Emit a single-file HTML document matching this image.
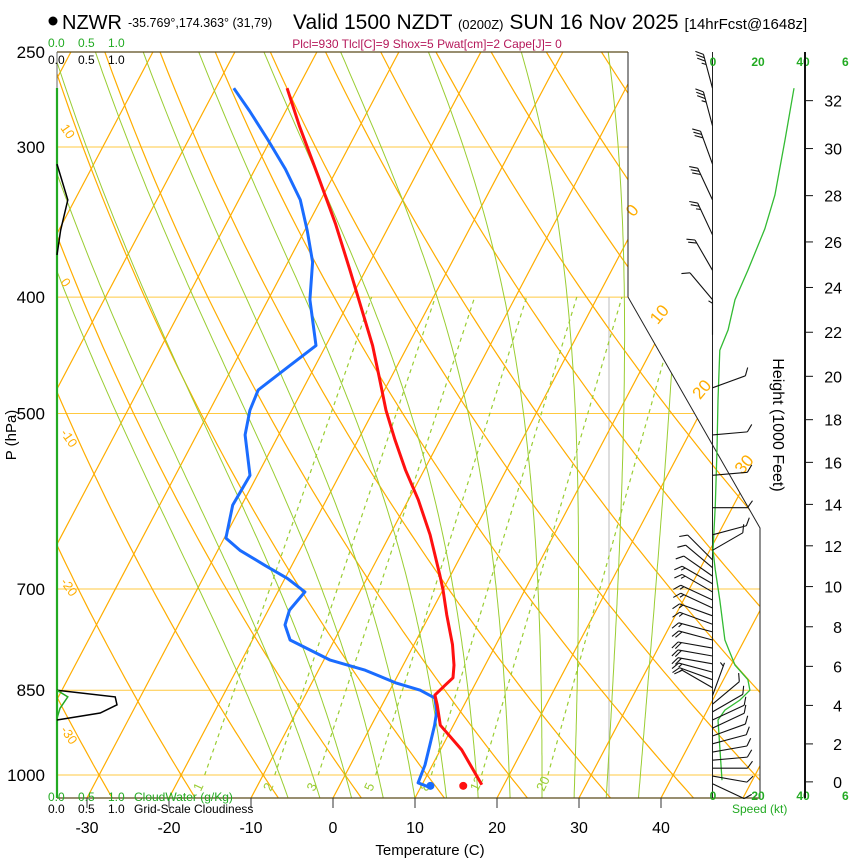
<!DOCTYPE html>
<html><head><meta charset="utf-8">
<style>
html,body{margin:0;padding:0;background:#fff;}
svg{display:block;font-family:"Liberation Sans",Arial,sans-serif;}
</style></head>
<body>
<svg id="chart" width="850" height="860" viewBox="0 0 850 860" xmlns="http://www.w3.org/2000/svg">
<defs>
<clipPath id="plotclip"><polygon points="57,52 628,52 628,297 760,528 760,798 57,798"/></clipPath>
</defs>
<rect x="0" y="0" width="850" height="860" fill="#fff"/>
<g id="bg" clip-path="url(#plotclip)"></g>
<g id="fg"></g>
<circle cx="53" cy="21" r="4.5" fill="#000"/>
<text x="62" y="29" font-size="20">NZWR</text>
<text x="128" y="27" font-size="12.5">-35.769°,174.363° (31,79)</text>
<text x="293" y="29" font-size="21">Valid 1500 NZDT <tspan font-size="13">(0200Z)</tspan> SUN 16 Nov 2025 <tspan font-size="15">[14hrFcst@1648z]</tspan></text>
<text x="427" y="48" font-size="12" fill="#b5185a" text-anchor="middle">Plcl=930 Tlcl[C]=9 Shox=5 Pwat[cm]=2 Cape[J]= 0</text>
<text x="48" y="47" font-size="12" fill="#22aa22">0.0<tspan x="78">0.5</tspan><tspan x="108">1.0</tspan></text>
<text x="48" y="64" font-size="12" fill="#000">0.0<tspan x="78">0.5</tspan><tspan x="108">1.0</tspan></text>
<text x="48" y="801" font-size="12" fill="#22aa22">0.0<tspan x="78">0.5</tspan><tspan x="108">1.0</tspan><tspan x="134">CloudWater (g/Kg)</tspan></text>
<text x="48" y="813" font-size="12" fill="#000">0.0<tspan x="78">0.5</tspan><tspan x="108">1.0</tspan><tspan x="134">Grid-Scale Cloudiness</tspan></text>
<text x="430" y="855" font-size="15" text-anchor="middle">Temperature (C)</text>
<text transform="translate(16,435) rotate(-90)" font-size="15" text-anchor="middle">P (hPa)</text>
<text transform="translate(773,425) rotate(90)" font-size="16" text-anchor="middle">Height (1000 Feet)</text>
<text x="732" y="813" font-size="12" fill="#22aa22">Speed (kt)</text>
</svg>
<script>
// ---------- data ----------
const tempP = [268,288,317,348,380,410,439,465,497,526,557,590,631,682,701,736,779,810,830,842,858,874,909,953,1019];
const tempC = [-51.3,-47.4,-41.9,-36.6,-31.9,-27.9,-24.3,-21.6,-18.5,-15.5,-12.3,-8.8,-5.1,-1.3,0.0,2.1,4.7,6.2,6.9,6.4,5.8,6.7,8.4,12.6,17.3];
const dewP = [268,280,296,313,332,352,374,402,439,456,478,497,521,563,596,635,650,669,686,704,729,750,772,802,818,838,850,863,886,909,944,981,1015,1023];
const dewC = [-57.8,-54.4,-50.3,-46.3,-42.5,-39.7,-37.0,-34.9,-31.2,-33.1,-35.4,-35.1,-34.1,-30.9,-31.1,-29.8,-27.3,-23.3,-19.7,-16.7,-17.4,-17.0,-15.4,-9.3,-4.3,0.2,3.7,6.0,7.1,7.7,8.4,9.1,9.4,10.9];
const sfcP = [1021];
const sfcT = [15.1];
const sfcTd = [11.1];
const windP = [268,288,310,332,355,380,402,430,476,521,563,599,631,650,662,672,683,693,704,715,726,737,749,760,772,784,796,808,821,833,846,859,873,886,900,914,928,942,957,972,987,1002,1017];
const windDir = [345,345,340,335,335,330,320,360,70,85,85,90,75,60,315,310,305,300,300,295,295,290,290,285,285,280,280,280,285,290,300,20,50,60,65,65,70,75,80,85,90,100,115];
const windSpd = [35,33,30,28,25,18,10,5,10,10,10,10,10,10,8,10,12,13,14,15,15,16,17,17,18,18,18,18,17,15,10,6,8,10,10,11,11,12,12,12,12,12,12];
const speedP = [268,296,329,351,380,402,426,443,487,536,596,650,675,715,772,810,833,850,866,883,900,953,1010];
const speedKt = [36,32,27.5,23,15.5,9.8,6.7,3,2.2,1.8,1,0,1,3,5.3,9.8,15.5,16.4,12,5.3,2.2,3.1,4];
const cloudP = [310,332,352,369,850,861,874,888,900];
const cloudFrac = [0,0.18,0.06,0,0,0.97,1.0,0.72,0];
const cloudWP = [850,861,880,897];
const cloudW = [0,0.18,0.05,0];
const isobars = [250,300,400,500,700,850,1000];
const tempTicks = [-30,-20,-10,0,10,20,30,40];
const heightTicks = [0,2,4,6,8,10,12,14,16,18,20,22,24,26,28,30,32];
const mixRatios = [1,2,3,5,8,12,20];
const moistStarts = [-8,-4,0,4,8,12,16,20,24,28,32,36];
const isothermLabels = [0,10,20,30];
const dryLabels = [10,0,-10,-20,-30];

// ---------- axes ----------
const NS='http://www.w3.org/2000/svg';
function Y(p){return 775-521.6*Math.log(1000/p);}
function X(T,p){return 333+8.2*T+(798-Y(p))*0.528;}
function SX(kt){return 713+2.25*kt;}
function CX(v){return 57+60*v;}
function pStd(kft){const h=kft*0.3048;return 1013.25*Math.pow(1-6.5*h/288.15,5.2559);}
function pOfY(y){return 1000*Math.exp((y-775)/521.6);}
const bg=document.getElementById('bg'), fg=document.getElementById('fg');
function mk(tag,attrs,parent){const e=document.createElementNS(NS,tag);for(const k in attrs)e.setAttribute(k,attrs[k]);(parent||fg).appendChild(e);return e;}
function pts(a){return a.map(q=>q[0].toFixed(1)+','+q[1].toFixed(1)).join(' ');}
function boundX(y){return y<297?628:(y<528?628+(y-297)*(132/231):760);}

isobars.forEach(p=>{
  const l=mk('line',{x1:57,x2:760,y1:Y(p),y2:Y(p),stroke:'#ffc940','stroke-width':1},bg);
  
  
});
const gv=mk('line',{x1:609,x2:609,y1:297,y2:798,stroke:'#bbbbbb','stroke-width':1},bg);


for(let T=-120;T<=50;T+=10){
  const l=mk('line',{x1:X(T,1050),y1:Y(1050),x2:X(T,240),y2:Y(240),stroke:'#ffad00','stroke-width':1.2},bg);
  
  
}
for(let th=-40;th<=160;th+=10){
  const a=[];for(let p=1050;p>=240;p-=10){a.push([X((th+273.15)*Math.pow(p/1000,0.2857)-273.15,p),Y(p)]);}
  const l=mk('polyline',{points:pts(a),fill:'none',stroke:'#ffad00','stroke-width':1.2},bg);
  
  
}
function es(T){return 6.112*Math.exp(17.67*(T-273.15)/(T-29.65));}
function dTdp(T,p){const e=es(T),rs=0.622*e/(p-e);return (287*T+2.5e6*rs)/(p*(1005+2.5e6*2.5e6*rs*0.622/(287*T*T)));}
moistStarts.forEach(t0=>{
  const a=[];let T=t0+273.15;
  for(let p=1000;p<1050;p+=5){T+=dTdp(T,p)*5;}
  for(let p=1050;p>=245;p-=5){a.push([X(T-273.15,p),Y(p)]);T-=dTdp(T,p)*5;}
  const l=mk('polyline',{points:pts(a),fill:'none',stroke:'#9acd32','stroke-width':1},bg);
  
  
});
function tdFromW(w,p){const e=w*p/(622+w),l=Math.log(e/6.112);return 243.5*l/(17.67-l);}
mixRatios.forEach(w=>{
  const l=mk('line',{x1:X(tdFromW(w,1000),1000),y1:Y(1000),x2:X(tdFromW(w,400),400),y2:Y(400),stroke:'#9acd32','stroke-width':1.2,'stroke-dasharray':'4,4'},bg);
  
  
  const tx=X(tdFromW(w,1000),1000)-4;
  const t=mk('text',{transform:'translate('+tx.toFixed(1)+',792) rotate(-65)','font-size':13,fill:'#9acd32'},fg);
  t.textContent=String(w);
  
  
});
// isotherm labels where isotherm crosses right boundary
isothermLabels.forEach(T=>{
  let yy=null;for(let y=52;y<798;y++){if(X(T,pOfY(y))<=boundX(y)){yy=y;break;}}
  if(yy===null)return;
  const x=X(T,pOfY(yy));
  const t=mk('text',{transform:'translate('+(x+9).toFixed(1)+','+(yy-26)+') rotate(-50)','font-size':17,fill:'#ffad00','text-anchor':'middle'},fg);
  t.textContent=String(T);
  
  
});
// dry adiabat labels (left)
dryLabels.forEach(th=>{
  let yy=null;for(let y=52;y<798;y++){const p=pOfY(y);const x=X((th+273.15)*Math.pow(p/1000,0.2857)-273.15,p);if(x>=79){yy=y;break;}}
  if(yy===null)return;
  const t=mk('text',{transform:'translate(60,'+(yy-9)+') rotate(55)','font-size':13,fill:'#ffad00'},fg);
  t.textContent=String(th);
  
  
});
const frame=mk('polyline',{points:'628,52 628,297 760,528 760,798',fill:'none',stroke:'#222','stroke-width':1},fg);


const ft=mk('line',{x1:57,x2:628,y1:52,y2:52,stroke:'#5a4a1a','stroke-width':1.3},fg);


const fb=mk('line',{x1:57,x2:760,y1:798,y2:798,stroke:'#5a4a1a','stroke-width':1.3},fg);


const fl=mk('line',{x1:57,x2:57,y1:52,y2:88,stroke:'#666','stroke-width':1},fg);


const gl=mk('line',{x1:57,x2:57,y1:88,y2:798,stroke:'#22aa22','stroke-width':2.2},fg);


isobars.forEach(p=>{
  const t=mk('text',{x:45,y:Y(p)+6,'font-size':17,'text-anchor':'end'},fg);
  t.textContent=String(p);
  
  
});
tempTicks.forEach(T=>{
  const x=333+8.2*T;
  const l=mk('line',{x1:x,x2:x,y1:798,y2:808,stroke:'#333','stroke-width':1},fg);
  
  
  const t=mk('text',{x:x,y:833,'font-size':16,'text-anchor':'middle'},fg);
  t.textContent=String(T);
  
  
});
const cc=mk('polyline',{points:pts(cloudP.slice(0,4).map((p,i)=>[CX(cloudFrac[i]),Y(p)])),fill:'none',stroke:'#000','stroke-width':1.5},fg);


const cc2=mk('polyline',{points:pts(cloudP.slice(4).map((p,i)=>[CX(cloudFrac[i+4]),Y(p)])),fill:'none',stroke:'#000','stroke-width':1.5},fg);


const cw=mk('polyline',{points:pts(cloudWP.map((p,i)=>[CX(cloudW[i]),Y(p)])),fill:'none',stroke:'#22aa22','stroke-width':1.5},fg);


const dl=mk('polyline',{points:pts(dewP.map((p,i)=>[X(dewC[i],p),Y(p)])),fill:'none',stroke:'#1a6cff','stroke-width':3,'stroke-linejoin':'round'},fg);


const tl=mk('polyline',{points:pts(tempP.map((p,i)=>[X(tempC[i],p),Y(p)])),fill:'none',stroke:'#ff1010','stroke-width':3,'stroke-linejoin':'round'},fg);


const sd=mk('circle',{cx:X(sfcTd[0],sfcP[0]),cy:Y(sfcP[0]),r:4,fill:'#1a6cff'},fg);


const st=mk('circle',{cx:X(sfcT[0],sfcP[0]),cy:Y(sfcP[0]),r:4,fill:'#ff1010'},fg);


const wa=mk('line',{x1:712.5,x2:712.5,y1:52,y2:798,stroke:'#222','stroke-width':1},fg);


const sl=mk('polyline',{points:pts(speedP.map((p,i)=>[SX(speedKt[i]),Y(p)])),fill:'none',stroke:'#33bb33','stroke-width':1.3},fg);


windP.forEach((p,i)=>{
  const d=windDir[i]*Math.PI/180,ux=Math.sin(d),uy=-Math.cos(d),L=35;
  const bx=712.5,by=Y(p),tx=bx+L*ux,ty=by+L*uy;
  const g=mk('g',{stroke:'#111','stroke-width':1.1,fill:'none'},fg);
  
  
  mk('line',{x1:bx,y1:by,x2:tx,y2:ty},g);
  const lx=uy,ly=-ux;let s=windSpd[i],k=0;
  while(s>=7.5){const px=tx-ux*k*3.5,py=ty-uy*k*3.5;mk('line',{x1:px,y1:py,x2:px+lx*7+ux*5,y2:py+ly*7+uy*5},g);s-=10;k++;}
  if(s>=2.5){if(k===0)k=1;const px=tx-ux*k*3.5,py=ty-uy*k*3.5;mk('line',{x1:px,y1:py,x2:px+lx*4+ux*2.5,y2:py+ly*4+uy*2.5},g);}
});
[[0,'0'],[20,'20'],[40,'40'],[60,'6']].forEach(v=>{
  ['top','bottom'].forEach(pos=>{
    const t=mk('text',{x:SX(v[0]),y:pos==='top'?66:800,'font-size':12,'font-weight':'bold',fill:'#22aa22','text-anchor':v[1]==='6'?'start':'middle'},fg);
    if(v[1]==='6')t.setAttribute('x',842);
    t.textContent=v[1];
    
    
  });
});
const ha=mk('line',{x1:805,x2:805,y1:52,y2:798,stroke:'#111','stroke-width':2},fg);


heightTicks.forEach(h=>{
  const y=Y(pStd(h));
  const l=mk('line',{x1:805,x2:813,y1:y,y2:y,stroke:'#111','stroke-width':1},fg);
  
  
  const t=mk('text',{x:842,y:y+6,'font-size':16,'text-anchor':'end'},fg);
  t.textContent=String(h);
  
  
});
</script>
</body></html>
